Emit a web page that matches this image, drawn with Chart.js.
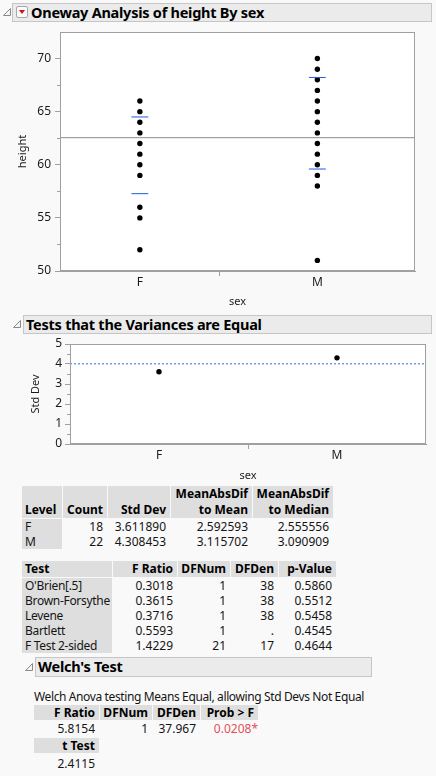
<!DOCTYPE html>
<html><head><meta charset="utf-8">
<script src="https://cdn.jsdelivr.net/npm/chart.js@4.4.1/dist/chart.umd.min.js"></script>
<style>
html,body{margin:0;padding:0}
body{background:#f9f9f9;width:436px;height:776px;overflow:hidden;position:relative;font-family:"Noto Sans",sans-serif;color:#151515;font-size:12px}
.hdr{position:absolute;background:#ebebeb;border:1px solid #c6c6c6;box-sizing:border-box;font-weight:bold;color:#000;white-space:nowrap}
.tri{position:absolute}
.dd{position:absolute;width:12px;height:12px;box-sizing:border-box;border:1px solid #a8a8a8;border-radius:2px;background:#fbfbfb}
.dd:after{content:"";position:absolute;left:2px;top:3px;border-left:3px solid transparent;border-right:3px solid transparent;border-top:4px solid #d0101a}
canvas{position:absolute;left:0}
.cell{position:absolute;box-sizing:border-box;white-space:nowrap;line-height:15px;height:15px}
.g{background:#dedede}
.b{font-weight:bold;color:#000}
.r{text-align:right;padding-right:4px}
.l{text-align:left;padding-left:3px}
.txt{position:absolute;white-space:nowrap}
</style>
</head><body>

<svg class="tri" style="left:2px;top:7px" width="10" height="10"><polygon points="8.5,1.5 8.5,8.5 1.5,8.5" fill="#f4f4f4" stroke="#8a8a8a" stroke-width="1"/></svg>
<div class="hdr" style="left:12px;top:3px;width:420px;height:19px"></div>
<div class="dd" style="left:16px;top:6px"></div>
<div class="txt b" style="left:31px;top:2px;font-size:14.5px;line-height:20px;letter-spacing:-0.25px">Oneway Analysis of height By sex</div>

<canvas id="c1" width="436" height="286" style="top:25px;width:436px;height:286px"></canvas>

<svg class="tri" style="left:12px;top:319px" width="10" height="10"><polygon points="8.5,1.5 8.5,8.5 1.5,8.5" fill="#f4f4f4" stroke="#8a8a8a" stroke-width="1"/></svg>
<div class="hdr" style="left:23px;top:315px;width:409px;height:19px"></div>
<div class="txt b" style="left:26px;top:314px;font-size:14.5px;line-height:20px;letter-spacing:-0.25px">Tests that the Variances are Equal</div>

<canvas id="c2" width="436" height="149" style="top:336px;width:436px;height:149px"></canvas>

<div id="tables"></div>

<svg class="tri" style="left:24px;top:662px" width="10" height="10"><polygon points="8.5,1.5 8.5,8.5 1.5,8.5" fill="#f4f4f4" stroke="#8a8a8a" stroke-width="1"/></svg>
<div class="hdr" style="left:35px;top:657px;width:337px;height:20px"></div>
<div class="txt b" style="left:38px;top:656px;font-size:14.5px;line-height:21px;letter-spacing:-0.25px">Welch's Test</div>
<div class="txt" style="left:34px;top:689px;line-height:16px;letter-spacing:-0.38px">Welch Anova testing Means Equal, allowing Std Devs Not Equal</div>

<script>
// ---------- chart data ----------
const categories = ['F', 'M'];
const groupCounts = [18, 22];
const fHeights = [52, 55, 56, 59, 60, 61, 62, 63, 64, 65, 66];
const mHeights = [51, 58, 59, 60, 61, 62, 63, 64, 65, 66, 67, 68, 69, 70];
const grandMean = 62.55;
const fStdLines = [57.28, 64.50];
const mStdLines = [59.60, 68.22];
const heightTicks = [50, 55, 60, 65, 70];
const heightMinorTicks = [52.5, 57.5, 62.5, 67.5];
const stdDevs = [3.611890, 4.308453];
const pooledStdDev = 4.01;
const stdTicks = [0, 1, 2, 3, 4, 5];
const stdMinorTicks = [0.5, 1.5, 2.5, 3.5, 4.5];

// ---------- table data ----------
const levelHeader = [['', 'Level'], ['', 'Count'], ['', 'Std Dev'], ['MeanAbsDif', 'to Mean'], ['MeanAbsDif', 'to Median']];
const levelRows = [
  ['F', '18', '3.611890', '2.592593', '2.555556'],
  ['M', '22', '4.308453', '3.115702', '3.090909']
];
const testHeader = ['Test', 'F Ratio', 'DFNum', 'DFDen', 'p-Value'];
const testRows = [
  ["O'Brien[.5]", '0.3018', '1', '38', '0.5860'],
  ['Brown-Forsythe', '0.3615', '1', '38', '0.5512'],
  ['Levene', '0.3716', '1', '38', '0.5458'],
  ['Bartlett', '0.5593', '1', '.', '0.4545'],
  ['F Test 2-sided', '1.4229', '21', '17', '0.4644']
];
const welchHeader = ['F Ratio', 'DFNum', 'DFDen', 'Prob > F'];
const welchRow = ['5.8154', '1', '37.967', '0.0208*'];
const tTestHeader = ['t Test'];
const tTestRow = ['2.4115'];

// ---------- tables ----------
const host = document.getElementById('tables');
function cell(x, y, w, h, text, cls, style) {
  const d = document.createElement('div');
  d.className = 'cell ' + cls;
  d.style.left = x + 'px'; d.style.top = y + 'px'; d.style.width = w + 'px'; d.style.height = h + 'px';
  if (style) d.style.cssText += style;
  d.textContent = text;
  host.appendChild(d);
  return d;
}
// Table 1
(function () {
  const xs = [22, 63, 108, 171, 253], ws = [40, 44, 62, 81, 80];
  levelHeader.forEach((h, i) => {
    const d = cell(xs[i], 486, ws[i], 32, '', 'g b ' + (i === 0 ? 'l' : 'r'));
    d.style.lineHeight = '16px';
    d.innerHTML = '<div style="height:16px">' + h[0] + '</div><div>' + h[1] + '</div>';
  });
  levelRows.forEach((row, r) => {
    row.forEach((v, i) => cell(xs[i], 519 + r * 15, ws[i], 15, v, (i === 0 ? 'g l' : 'r')));
  });
})();
// Table 2
(function () {
  const xs = [22, 113, 178, 231, 279], ws = [90, 64, 52, 47, 57];
  testHeader.forEach((h, i) => cell(xs[i], 561, ws[i], 16, h, 'g b ' + (i === 0 ? 'l' : 'r'), 'line-height:16px'));
  testRows.forEach((row, r) => {
    row.forEach((v, i) => cell(xs[i], 578 + r * 15, ws[i], 15, v, (i === 0 ? 'g l' : 'r'), i === 0 ? 'letter-spacing:-0.3px' : ''));
  });
})();
// Table 3
(function () {
  const xs = [34, 100, 153, 201], ws = [65, 52, 47, 57];
  welchHeader.forEach((h, i) => cell(xs[i], 705, ws[i], 15, h, 'g b r'));
  welchRow.forEach((v, i) => cell(xs[i], 721, ws[i], 15, v, 'r', i === 3 ? 'color:#e4505c;padding-right:0' : ''));
  tTestHeader.forEach((h, i) => cell(xs[i], 738, ws[i], 15, h, 'g b r'));
  tTestRow.forEach((v, i) => cell(xs[i], 756, ws[i], 15, v, 'r'));
})();

// ---------- charts ----------
const FONT = '"Noto Sans", sans-serif';
const AXIS = '#a0a0a0';
const TXT = '#1a1a1a';

const framePlugin = {
  id: 'frame',
  beforeDraw(chart) {
    const { ctx, chartArea: a } = chart;
    ctx.save();
    ctx.fillStyle = '#ffffff';
    ctx.fillRect(a.left, a.top, a.right - a.left, a.bottom - a.top);
    ctx.restore();
  },
  afterDraw(chart, args, opts) {
    const { ctx, chartArea: a } = chart;
    ctx.save();
    ctx.strokeStyle = AXIS; ctx.lineWidth = 1;
    ctx.strokeRect(Math.round(a.left) + 0.5, Math.round(a.top) + 0.5, Math.round(a.right - a.left) - 1, Math.round(a.bottom - a.top) - 1);
    const ys = chart.scales.y;
    (opts.minor || []).forEach(v => {
      const py = Math.round(ys.getPixelForValue(v)) + 0.5;
      ctx.beginPath(); ctx.moveTo(a.left - 3, py); ctx.lineTo(a.left, py); ctx.stroke();
    });
    ctx.restore();
  }
};
function noPad(s) { s.paddingTop = 0; s.paddingBottom = 0; s.paddingLeft = 0; s.paddingRight = 0; }

function lineDs(pts, color, dash) {
  return { data: pts, showLine: true, borderColor: color, borderWidth: 1, borderDash: dash || [], pointRadius: 0, pointHoverRadius: 0, fill: false };
}
function ptsDs(pts) {
  return { data: pts, showLine: false, pointRadius: 2.7, pointHoverRadius: 2.7, backgroundColor: '#000', borderWidth: 0 };
}

// Chart 1: oneway
(function () {
  const total = groupCounts[0] + groupCounts[1];
  const centers = [groupCounts[0] / 2, groupCounts[0] + groupCounts[1] / 2];
  const divider = groupCounts[0];
  const hw = 0.95;
  const ds = [
    lineDs([{ x: 0, y: grandMean }, { x: total, y: grandMean }], '#8a8a8a'),
  ];
  [fStdLines, mStdLines].forEach((arr, g) => arr.forEach(v => ds.push(lineDs([{ x: centers[g] - hw, y: v }, { x: centers[g] + hw, y: v }], '#1f5ae6'))));
  ds.push(ptsDs(fHeights.map(h => ({ x: centers[0], y: h }))));
  ds.push(ptsDs(mHeights.map(h => ({ x: centers[1], y: h }))));
  new Chart(document.getElementById('c1'), {
    type: 'scatter',
    data: { datasets: ds },
    plugins: [framePlugin],
    options: {
      responsive: false, animation: false, devicePixelRatio: 1,
      layout: { padding: { left: 11, top: 7, right: 21, bottom: 0 } },
      plugins: { legend: { display: false }, tooltip: { enabled: false }, frame: { minor: heightMinorTicks } },
      scales: {
        x: {
          type: 'linear', min: 0, max: total,
          afterBuildTicks: s => { s.ticks = [centers[0], divider, centers[1]].map(v => ({ value: v })); },
          afterFit: s => { s.height = 40; noPad(s); },
          ticks: { autoSkip: false, maxRotation: 0, padding: -1, color: TXT, font: { family: FONT, size: 12 },
            callback: v => v === centers[0] ? categories[0] : v === centers[1] ? categories[1] : '' },
          grid: { drawOnChartArea: false, tickLength: 5, color: c => (c.tick && c.tick.value === divider) ? AXIS : 'rgba(0,0,0,0)' },
          border: { color: AXIS },
          title: { display: true, text: 'sex', color: TXT, font: { family: FONT, size: 11 }, padding: { top: 0, bottom: 3 } }
        },
        y: {
          type: 'linear', min: 50, max: 72.5,
          afterBuildTicks: s => { s.ticks = heightTicks.map(v => ({ value: v })); },
          afterFit: s => { s.width = 60 - 11; noPad(s); },
          ticks: { autoSkip: false, padding: 4, color: TXT, font: { family: FONT, size: 12 } },
          grid: { drawOnChartArea: false, tickLength: 5, color: AXIS },
          border: { color: AXIS },
          title: { display: true, text: 'height', color: TXT, font: { family: FONT, size: 11 }, padding: { top: 5, bottom: 0 } }
        }
      }
    }
  });
})();

// Chart 2: std devs
(function () {
  const centers = [0.5, 1.5];
  const ds = [
    lineDs([{ x: 0, y: pooledStdDev }, { x: 2, y: pooledStdDev }], '#2f6ae8', [2, 2]),
    ptsDs(stdDevs.map((s, i) => ({ x: centers[i], y: s })))
  ];
  new Chart(document.getElementById('c2'), {
    type: 'scatter',
    data: { datasets: ds },
    plugins: [framePlugin],
    options: {
      responsive: false, animation: false, devicePixelRatio: 1,
      layout: { padding: { left: 24, top: 8, right: 10, bottom: 0 } },
      plugins: { legend: { display: false }, tooltip: { enabled: false }, frame: { minor: stdMinorTicks } },
      scales: {
        x: {
          type: 'linear', min: 0, max: 2,
          afterBuildTicks: s => { s.ticks = [centers[0], 1, centers[1]].map(v => ({ value: v })); },
          afterFit: s => { s.height = 41; noPad(s); },
          ticks: { autoSkip: false, maxRotation: 0, padding: -1, color: TXT, font: { family: FONT, size: 12 },
            callback: v => v === centers[0] ? categories[0] : v === centers[1] ? categories[1] : '' },
          grid: { drawOnChartArea: false, tickLength: 5, color: c => (c.tick && c.tick.value === 1) ? AXIS : 'rgba(0,0,0,0)' },
          border: { color: AXIS },
          title: { display: true, text: 'sex', color: TXT, font: { family: FONT, size: 11 }, padding: { top: 0, bottom: 3 } }
        },
        y: {
          type: 'linear', min: 0, max: 5,
          afterBuildTicks: s => { s.ticks = stdTicks.map(v => ({ value: v })); },
          afterFit: s => { s.width = 70 - 24; noPad(s); },
          ticks: { autoSkip: false, padding: 3, color: TXT, font: { family: FONT, size: 12 } },
          grid: { drawOnChartArea: false, tickLength: 5, color: AXIS },
          border: { color: AXIS },
          title: { display: true, text: 'Std Dev', color: TXT, font: { family: FONT, size: 11 }, padding: { top: 5, bottom: 0 } }
        }
      }
    }
  });
})();
</script>
</body></html>
